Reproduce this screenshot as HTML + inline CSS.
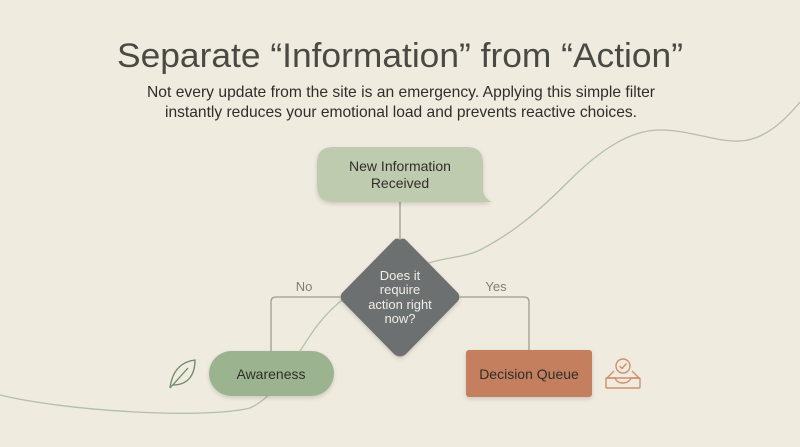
<!DOCTYPE html>
<html><head><meta charset="utf-8"><style>
html,body{margin:0;padding:0;background:#efebdf;}
svg{display:block}
text{font-family:"Liberation Sans",sans-serif;}
</style></head><body>
<svg width="800" height="447" viewBox="0 0 800 447" xmlns="http://www.w3.org/2000/svg">
<defs>
<filter id="sh" x="-20%" y="-20%" width="140%" height="150%"><feDropShadow dx="0" dy="2" stdDeviation="2" flood-color="#000" flood-opacity="0.15"/></filter>
</defs>
<rect width="800" height="447" fill="#efebdf"/>
<!-- background curve -->
<path d="M0,395 C60,410 200,420 250,408 C290,390 300,330 345,298 C380,275 410,268 440,260 C460,256 470,255 480,250 C515,232 540,210 570,180 C600,150 630,130 660,130 C690,130 715,142 740,141 C765,140 785,120 800,102" fill="none" stroke="#b3bfa6" stroke-width="1.3"/>
<!-- title -->
<text x="400" y="67" text-anchor="middle" font-size="34" fill="#4a4a44" textLength="566" lengthAdjust="spacingAndGlyphs">Separate “Information” from “Action”</text>
<text x="401" y="97" text-anchor="middle" font-size="16" fill="#2e2e2a" textLength="508" lengthAdjust="spacingAndGlyphs">Not every update from the site is an emergency. Applying this simple filter</text>
<text x="401" y="117" text-anchor="middle" font-size="16" fill="#2e2e2a" textLength="472" lengthAdjust="spacingAndGlyphs">instantly reduces your emotional load and prevents reactive choices.</text>
<!-- connectors -->
<line x1="400" y1="202" x2="400" y2="240" stroke="#9a9e92" stroke-width="1.3"/>
<path d="M340,297 H276 Q271,297 271,302 V352" fill="none" stroke="#9a9e92" stroke-width="1.3"/>
<path d="M460,297 H524 Q529,297 529,302 V352" fill="none" stroke="#9a9e92" stroke-width="1.3"/>
<text x="304" y="291" text-anchor="middle" font-size="13" fill="#7d7f76">No</text>
<text x="496" y="291" text-anchor="middle" font-size="13" fill="#7d7f76">Yes</text>
<!-- bubble -->
<g filter="url(#sh)">
<path d="M333,147 H467 Q483,147 483,163 V192 Q486,200 492,202 H333 Q317,202 317,186 V163 Q317,147 333,147 Z" fill="#bfcbaf"/>
</g>
<text x="400" y="171" text-anchor="middle" font-size="14" fill="#2e2e2a">New Information</text>
<text x="400" y="188" text-anchor="middle" font-size="14" fill="#2e2e2a">Received</text>
<!-- diamond -->
<g filter="url(#sh)">
<path d="M400,240 Q403,237 406,240 L458,293 Q461,297 458,301 L406,354 Q400,359 394,354 L342,301 Q339,297 342,293 L394,240 Q397,237 400,240 Z" fill="#6c7070"/>
</g>
<text x="400" y="280" text-anchor="middle" font-size="13" fill="#f0eee6">Does it</text>
<text x="400" y="294" text-anchor="middle" font-size="13" fill="#f0eee6">require</text>
<text x="400" y="309" text-anchor="middle" font-size="13" fill="#f0eee6">action right</text>
<text x="400" y="323" text-anchor="middle" font-size="13" fill="#f0eee6">now?</text>
<!-- awareness -->
<rect x="209" y="351" width="125" height="45" rx="22.5" fill="#9cb38f" filter="url(#sh)"/>
<text x="271" y="379" text-anchor="middle" font-size="14" fill="#2e2e2a">Awareness</text>
<!-- decision queue -->
<rect x="466" y="350" width="126" height="47" rx="3" fill="#c47f5e" filter="url(#sh)"/>
<text x="529" y="379" text-anchor="middle" font-size="14" fill="#2e2e2a">Decision Queue</text>
<!-- leaf -->
<g fill="none" stroke="#6f8a68" stroke-width="1.3">
<path d="M170,388 C172,372 180,362 195,360 C195,375 188,385 173,385"/>
<path d="M170,388 L188,368"/>
</g>
<!-- inbox icon -->
<g fill="none" stroke="#d0906b" stroke-width="1.4">
<circle cx="623" cy="366" r="7"/>
<path d="M619.5,366 l2.5,2.5 l4.5,-5"/>
<path d="M607,378 L614,371 M639,378 L632,371"/>
<rect x="606" y="378" width="34" height="10" rx="1"/>
<path d="M606,378 H615 Q617,383 623,383 Q629,383 631,378 H640"/>
</g>
</svg>
</body></html>
